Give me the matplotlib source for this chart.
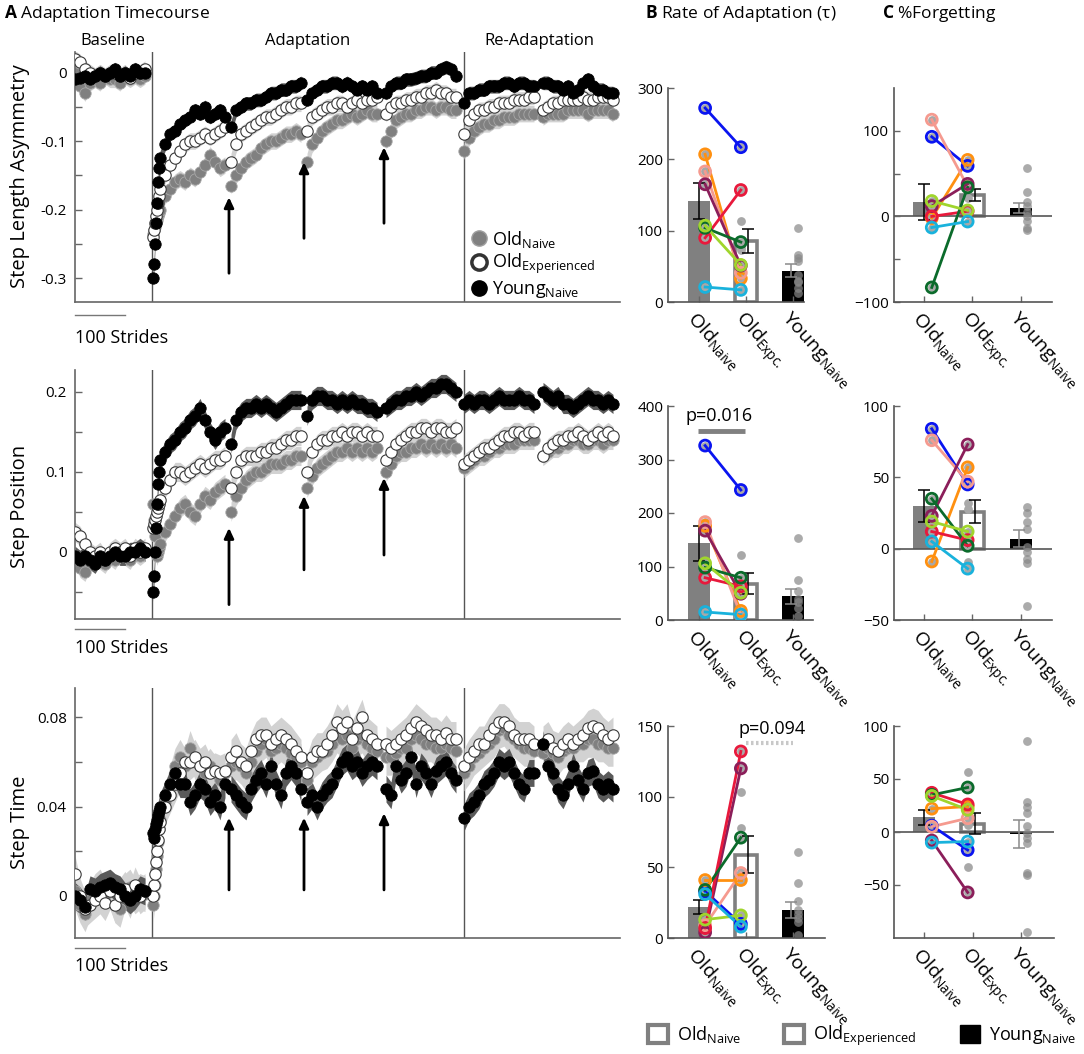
import numpy as np
import matplotlib
matplotlib.use('Agg')
import matplotlib.pyplot as plt
from matplotlib.lines import Line2D
from matplotlib.patches import Patch
from matplotlib.transforms import ScaledTranslation, blended_transform_factory

plt.rcParams['font.family'] = ['Open Sans', 'DejaVu Sans']
plt.rcParams['mathtext.fontset'] = 'custom'
plt.rcParams['mathtext.rm'] = 'Open Sans'
plt.rcParams['mathtext.it'] = 'Open Sans:italic'
plt.rcParams['mathtext.bf'] = 'Open Sans:bold'

# ---------------- Daten: Zeitverlauf (Strides je Block) ----------------
x_blocks = [np.arange(0, 150, 10),
            np.array([156, 158, 160, 162, 164, 166, 168, 170] + list(range(180, 301, 10))),
            np.arange(312, 453, 10), np.arange(464, 605, 10), np.arange(622, 763, 10),
            np.arange(778, 919, 10), np.arange(936, 1077, 10)]

# Step Length Asymmetry
sla_naive = [
    [0.0, -0.02, -0.03, -0.015, -0.01, -0.015, -0.005, -0.01, -0.01, -0.015, -0.005, -0.01, -0.005, -0.01, -0.005],
    [-0.235, -0.23, -0.225, -0.22, -0.215, -0.21, -0.205, -0.2, -0.18, -0.17, -0.16, -0.155, -0.16, -0.15, -0.155, -0.145, -0.135, -0.12, -0.13, -0.14, -0.135],
    [-0.165, -0.15, -0.14, -0.13, -0.125, -0.12, -0.11, -0.105, -0.1, -0.1, -0.095, -0.09, -0.09, -0.085, -0.09],
    [-0.13, -0.105, -0.095, -0.085, -0.08, -0.075, -0.07, -0.07, -0.065, -0.06, -0.065, -0.06, -0.055, -0.06, -0.06],
    [-0.1, -0.085, -0.07, -0.065, -0.06, -0.06, -0.055, -0.055, -0.05, -0.05, -0.055, -0.05, -0.05, -0.055, -0.055],
    [-0.115, -0.095, -0.085, -0.08, -0.075, -0.075, -0.07, -0.07, -0.065, -0.065, -0.065, -0.06, -0.06, -0.06, -0.06],
    [-0.065, -0.06, -0.06, -0.06, -0.06, -0.055, -0.055, -0.055, -0.055, -0.06, -0.055, -0.055, -0.055, -0.055, -0.06]]
sla_exp = [
    [0.02, 0.015, 0.005, 0.0, -0.005, 0.0, -0.005, 0.0, 0.0, -0.005, 0.0, -0.008, 0.0, 0.0, 0.005],
    [-0.24, -0.23, -0.22, -0.21, -0.2, -0.19, -0.18, -0.17, -0.15, -0.135, -0.125, -0.115, -0.105, -0.1, -0.1, -0.095, -0.09, -0.095, -0.09, -0.085, -0.08],
    [-0.13, -0.105, -0.09, -0.085, -0.08, -0.075, -0.07, -0.065, -0.065, -0.06, -0.055, -0.05, -0.05, -0.045, -0.045],
    [-0.085, -0.065, -0.06, -0.055, -0.05, -0.05, -0.045, -0.045, -0.05, -0.045, -0.04, -0.045, -0.04, -0.04, -0.035],
    [-0.06, -0.05, -0.045, -0.045, -0.04, -0.04, -0.035, -0.035, -0.03, -0.03, -0.025, -0.03, -0.03, -0.035, -0.035],
    [-0.09, -0.07, -0.06, -0.055, -0.055, -0.05, -0.05, -0.045, -0.045, -0.045, -0.04, -0.04, -0.04, -0.035, -0.035],
    [-0.055, -0.05, -0.045, -0.045, -0.04, -0.04, -0.04, -0.04, -0.035, -0.04, -0.04, -0.035, -0.035, -0.035, -0.04]]
sla_young = [
    [-0.01, -0.008, -0.005, -0.01, -0.005, 0.0, -0.005, 0.0, 0.005, -0.005, 0.0, -0.005, 0.005, 0.0, 0.0],
    [-0.3, -0.28, -0.25, -0.22, -0.19, -0.16, -0.14, -0.125, -0.105, -0.09, -0.085, -0.075, -0.07, -0.065, -0.055, -0.06, -0.05, -0.065, -0.06, -0.055, -0.065],
    [-0.08, -0.055, -0.05, -0.045, -0.045, -0.04, -0.04, -0.035, -0.03, -0.03, -0.025, -0.025, -0.02, -0.02, -0.015],
    [-0.04, -0.03, -0.025, -0.02, -0.02, -0.015, -0.015, -0.02, -0.015, -0.02, -0.025, -0.02, -0.025, -0.02, -0.03],
    [-0.03, -0.02, -0.015, -0.015, -0.01, -0.01, -0.008, -0.005, -0.005, 0.0, 0.0, 0.005, 0.008, 0.005, -0.005],
    [-0.045, -0.03, -0.03, -0.025, -0.025, -0.02, -0.02, -0.02, -0.015, -0.015, -0.02, -0.015, -0.015, -0.02, -0.02],
    [-0.015, -0.015, -0.02, -0.02, -0.025, -0.02, -0.03, -0.025, -0.015, -0.01, -0.02, -0.025, -0.025, -0.03, -0.03]]

# Step Position
pos_naive = [
    [-0.005, -0.02, -0.025, -0.01, -0.005, -0.01, -0.015, -0.005, -0.01, 0.0, -0.005, -0.01, 0.0, -0.005, 0.0],
    [0.06, 0.04, 0.02, 0.0, -0.005, 0.0, 0.005, 0.01, 0.025, 0.035, 0.045, 0.055, 0.06, 0.05, 0.045, 0.06, 0.07, 0.065, 0.075, 0.08, 0.085],
    [0.05, 0.07, 0.08, 0.09, 0.095, 0.1, 0.1, 0.105, 0.11, 0.11, 0.11, 0.115, 0.115, 0.12, 0.12],
    [0.08, 0.095, 0.105, 0.11, 0.115, 0.12, 0.125, 0.125, 0.13, 0.125, 0.13, 0.125, 0.13, 0.125, 0.13],
    [0.1, 0.11, 0.12, 0.125, 0.125, 0.13, 0.13, 0.135, 0.13, 0.135, 0.13, 0.135, 0.13, 0.135, 0.13],
    [0.105, 0.11, 0.115, 0.12, 0.12, 0.125, 0.13, 0.13, 0.135, 0.135, 0.135, 0.14, 0.14, 0.14, 0.14],
    [0.12, 0.125, 0.13, 0.13, 0.135, 0.135, 0.14, 0.14, 0.135, 0.135, 0.14, 0.14, 0.135, 0.14, 0.14]]
pos_exp = [
    [0.025, 0.02, 0.01, 0.0, -0.005, 0.0, -0.01, 0.0, 0.005, 0.0, 0.005, -0.005, 0.005, 0.0, 0.005],
    [0.03, 0.035, 0.04, 0.045, 0.05, 0.055, 0.06, 0.065, 0.08, 0.09, 0.1, 0.1, 0.095, 0.1, 0.105, 0.11, 0.105, 0.11, 0.115, 0.115, 0.12],
    [0.08, 0.1, 0.115, 0.12, 0.12, 0.12, 0.125, 0.125, 0.13, 0.13, 0.135, 0.14, 0.14, 0.145, 0.145],
    [0.1, 0.125, 0.135, 0.14, 0.14, 0.145, 0.145, 0.15, 0.145, 0.15, 0.15, 0.145, 0.15, 0.145, 0.145],
    [0.115, 0.125, 0.135, 0.14, 0.145, 0.15, 0.15, 0.155, 0.155, 0.15, 0.155, 0.155, 0.15, 0.15, 0.155],
    [0.11, 0.115, 0.12, 0.125, 0.13, 0.13, 0.135, 0.14, 0.145, 0.145, 0.15, 0.15, 0.145, 0.15, 0.15],
    [0.12, 0.13, 0.135, 0.14, 0.14, 0.145, 0.145, 0.15, 0.145, 0.14, 0.145, 0.15, 0.145, 0.15, 0.145]]
pos_young = [
    [-0.005, -0.01, -0.005, -0.01, -0.015, -0.005, -0.01, -0.005, 0.0, -0.005, -0.005, 0.0, 0.0, 0.005, 0.0],
    [-0.05, -0.03, 0.0, 0.03, 0.06, 0.085, 0.1, 0.115, 0.125, 0.135, 0.14, 0.15, 0.155, 0.165, 0.17, 0.18, 0.165, 0.15, 0.14, 0.15, 0.155],
    [0.135, 0.165, 0.175, 0.18, 0.18, 0.185, 0.18, 0.185, 0.18, 0.175, 0.18, 0.185, 0.19, 0.19, 0.19],
    [0.17, 0.19, 0.195, 0.195, 0.19, 0.19, 0.185, 0.19, 0.185, 0.19, 0.185, 0.185, 0.18, 0.18, 0.175],
    [0.18, 0.185, 0.19, 0.19, 0.195, 0.195, 0.2, 0.195, 0.2, 0.205, 0.205, 0.21, 0.21, 0.205, 0.2],
    [0.185, 0.19, 0.185, 0.19, 0.19, 0.185, 0.19, 0.195, 0.19, 0.19, 0.19, 0.195, 0.19, 0.19, 0.185],
    [0.2, 0.195, 0.19, 0.195, 0.185, 0.185, 0.18, 0.185, 0.19, 0.195, 0.19, 0.19, 0.185, 0.19, 0.185]]

# Step Time
st_naive = [
    [0.002, -0.004, -0.008, -0.002, 0.002, 0.004, 0.0, 0.003, -0.004, -0.006, 0.002, 0.004, 0.0, 0.002, 0.001],
    [-0.004, 0.0, 0.005, 0.012, 0.018, 0.024, 0.03, 0.034, 0.042, 0.05, 0.058, 0.062, 0.058, 0.066, 0.06, 0.058, 0.055, 0.058, 0.055, 0.052, 0.055],
    [0.058, 0.06, 0.058, 0.055, 0.06, 0.065, 0.068, 0.07, 0.065, 0.066, 0.068, 0.066, 0.064, 0.062, 0.06],
    [0.052, 0.06, 0.062, 0.064, 0.065, 0.068, 0.072, 0.07, 0.072, 0.066, 0.07, 0.072, 0.068, 0.066, 0.065],
    [0.062, 0.062, 0.064, 0.066, 0.066, 0.07, 0.072, 0.07, 0.068, 0.068, 0.066, 0.066, 0.068, 0.066, 0.065],
    [0.055, 0.058, 0.062, 0.064, 0.066, 0.068, 0.07, 0.074, 0.075, 0.072, 0.07, 0.068, 0.066, 0.066, 0.065],
    [0.064, 0.066, 0.064, 0.062, 0.065, 0.066, 0.066, 0.068, 0.068, 0.07, 0.07, 0.068, 0.068, 0.066, 0.066]]
st_exp = [
    [0.01, 0.0, -0.006, -0.004, -0.002, 0.0, -0.003, 0.002, -0.004, 0.0, 0.003, -0.002, 0.005, 0.0, 0.002],
    [0.0, 0.005, 0.01, 0.015, 0.02, 0.025, 0.03, 0.033, 0.04, 0.045, 0.05, 0.055, 0.06, 0.06, 0.062, 0.058, 0.06, 0.055, 0.056, 0.055, 0.056],
    [0.062, 0.065, 0.06, 0.058, 0.065, 0.07, 0.072, 0.072, 0.068, 0.07, 0.072, 0.07, 0.068, 0.065, 0.062],
    [0.055, 0.062, 0.065, 0.065, 0.068, 0.072, 0.078, 0.075, 0.078, 0.07, 0.075, 0.08, 0.072, 0.07, 0.068],
    [0.068, 0.066, 0.068, 0.07, 0.072, 0.075, 0.078, 0.076, 0.074, 0.072, 0.072, 0.07, 0.073, 0.07, 0.07],
    [0.058, 0.062, 0.065, 0.068, 0.068, 0.072, 0.075, 0.078, 0.078, 0.076, 0.072, 0.07, 0.07, 0.07, 0.068],
    [0.068, 0.07, 0.066, 0.065, 0.068, 0.07, 0.068, 0.07, 0.072, 0.075, 0.076, 0.075, 0.072, 0.07, 0.072]]
st_young = [
    [0.0, -0.002, -0.005, 0.003, 0.002, 0.004, 0.005, 0.006, 0.004, 0.003, 0.0, -0.002, 0.0, 0.003, 0.002],
    [0.028, 0.026, 0.03, 0.032, 0.034, 0.036, 0.038, 0.04, 0.045, 0.05, 0.055, 0.05, 0.05, 0.042, 0.045, 0.05, 0.048, 0.042, 0.045, 0.04, 0.05],
    [0.048, 0.045, 0.042, 0.04, 0.048, 0.052, 0.055, 0.05, 0.058, 0.05, 0.045, 0.055, 0.058, 0.055, 0.048],
    [0.042, 0.045, 0.04, 0.045, 0.048, 0.05, 0.055, 0.06, 0.062, 0.058, 0.06, 0.055, 0.058, 0.06, 0.058],
    [0.048, 0.045, 0.058, 0.052, 0.055, 0.062, 0.05, 0.058, 0.055, 0.05, 0.056, 0.058, 0.06, 0.055, 0.052],
    [0.035, 0.04, 0.042, 0.045, 0.05, 0.052, 0.055, 0.06, 0.058, 0.06, 0.055, 0.05, 0.048, 0.055, 0.055],
    [0.068, 0.058, 0.055, 0.048, 0.045, 0.05, 0.058, 0.052, 0.048, 0.055, 0.056, 0.05, 0.048, 0.05, 0.048]]

# Standardfehler (Bandbreite)
sla_se_old, sla_se_young = 0.012, 0.01
pos_se_old, pos_se_young = 0.012, 0.012
st_se_old, st_se_young = 0.008, 0.006

# Pfeile (Stride, Spitze, Fuss)
arrow_strides = [308, 458, 618]
sla_arrows = [(-0.182, -0.293), (-0.131, -0.242), (-0.109, -0.22)]
pos_arrows = [(0.03, -0.066), (0.07, -0.0225), (0.0925, -0.004)]
st_arrows = [(0.035, 0.0027), (0.035, 0.0027), (0.037, 0.0027)]

# ---------------- Daten: Einzelprobanden (B und C) ----------------
subj_colors = ['#0a14f0', '#ff9010', '#f59a8f', '#8b1e5a', '#e8193c', '#0b6b2b', '#a0d52d', '#19b2dc']

tau_sla_naive = [272, 207, 183, 165, 90, 104, 107, 21]
tau_sla_exp = [217, 33, 41, 51, 157, 84, 52, 17]
tau_sla_extra = [114, 76, 73]
tau_sla_young = [104, 66, 62, 58, 38, 30, 28, 19, 12]
tau_sla_mean = [142, 85, 44]
tau_sla_sem = [25, 17, 9]

fg_sla_naive = [93, -2, 113, 12, 0, -83, 18, -13]
fg_sla_exp = [59, 66, 35, 38, 6, 34, 7, -6]
fg_sla_extra = [22]
fg_sla_young = [57, 28, 17, 12, 5, 1, -5, -13, -16]
fg_sla_mean = [17, 25, 10]
fg_sla_sem = [21, 7, 6]

tau_pos_naive = [326, 176, 183, 167, 79, 98, 106, 15]
tau_pos_exp = [243, 17, 9, 49, 63, 79, 51, 10]
tau_pos_extra = [121]
tau_pos_young = [153, 74, 55, 40, 33, 22, 8]
tau_pos_mean = [143, 68, 44]
tau_pos_sem = [32, 20, 14]

fg_pos_naive = [84, -9, 76, 23, 12, 35, 19, 5]
fg_pos_exp = [45, 57, 47, 73, 6, 2, 12, -14]
fg_pos_extra = [32, 28, -9]
fg_pos_young = [29, 25, 19, 14, 1, -2, -7, -10, -40]
fg_pos_mean = [30, 26, 7]
fg_pos_sem = [11, 8, 6]

tau_st_naive = [33, 41, 9, 4, 7, 34, 13, 31]
tau_st_exp = [10, 41, 46, 120, 132, 71, 16, 8]
tau_st_extra = [103, 78, 47]
tau_st_young = [61, 39, 26, 20, 17, 14, 11, 2]
tau_st_mean = [22, 59, 20]
tau_st_sem = [5, 13, 5.5]

fg_st_naive = [6, 22, 5, -8, 37, 35, 34, -10]
fg_st_exp = [-17, 24, 13, -57, 26, 42, 21, -9]
fg_st_extra = [57, 7, -33]
fg_st_young = [86, 28, 24, 18, 6, -1, -6, -10, -39, -41, -94]
fg_st_mean = [14, 8, -2]
fg_st_sem = [7, 9.5, 13]

group_labels = [r'Old$_{\mathrm{Naive}}$', r'Old$_{\mathrm{Expc.}}$', r'Young$_{\mathrm{Naive}}$']

W, H = 1084, 1054
fig = plt.figure(figsize=(W / 100, H / 100), dpi=100)


def px_axes(x0, y0, x1, y1):
    return fig.add_axes([x0 / W, 1 - y1 / H, (x1 - x0) / W, (y1 - y0) / H])


SPINE = '#666666'


def zeitverlauf(ax, naive, exp, young, se_old, se_young, ylim, yticks, ylabels, yminor,
                arrows, bar_y, txt_y):
    for xs, a, b, c in zip(x_blocks, naive, exp, young):
        a, b, c = np.array(a), np.array(b), np.array(c)
        ax.fill_between(xs, a - se_old, a + se_old, color='#d2d2d2', lw=0, zorder=1)
        ax.fill_between(xs, b - se_old, b + se_old, color='#d2d2d2', lw=0, zorder=1)
        ax.fill_between(xs, c - se_young, c + se_young, color='#5a5a5a', lw=0, zorder=1.5)
    for xs, a in zip(x_blocks, naive):
        ax.plot(xs, a, 'o', ms=8.2, mfc='#808080', mec='#a8a8a8', mew=0.6, zorder=2)
    for xs, b in zip(x_blocks, exp):
        ax.plot(xs, b, 'o', ms=8.2, mfc='white', mec='#3a3a3a', mew=0.8, zorder=3)
    for xs, c in zip(x_blocks, young):
        ax.plot(xs, c, 'o', ms=8.2, mfc='black', mec='black', mew=0.6, zorder=4)
    for xv in [154, 777]:
        ax.axvline(xv, color='#555555', lw=1.0, zorder=0.5)
    for xs, (tip, base) in zip(arrow_strides, arrows):
        ax.annotate('', xy=(xs, tip), xytext=(xs, base),
                    arrowprops=dict(arrowstyle='-|>,head_length=0.6,head_width=0.28',
                                    lw=2, color='black', shrinkA=0, shrinkB=0),
                    zorder=5)
    ax.set_xlim(0, 1090)
    ax.set_ylim(*ylim)
    ax.set_yticks(yticks)
    ax.set_yticklabels(ylabels)
    ax.set_yticks(yminor, minor=True)
    ax.set_xticks([])
    ax.tick_params(axis='y', which='both', direction='in', length=5, width=1,
                   color=SPINE, labelsize=11, pad=6)
    for s in ['top', 'right']:
        ax.spines[s].set_visible(False)
    for s in ['left', 'bottom']:
        ax.spines[s].set_color(SPINE)
        ax.spines[s].set_linewidth(1.2)
    tr = blended_transform_factory(ax.transData, ax.transAxes)
    ax.plot([0, 100], [bar_y, bar_y], color='#777777', lw=1, transform=tr, clip_on=False)
    ax.text(0, txt_y, '100 Strides', transform=tr, ha='left', va='top', fontsize=13)


def balken(ax, naive, exp, extra, young, means, sems, ylim, yticks, yminor, xlim,
           dot_off, zero_line=False):
    w = 0.47
    ax.bar(1, means[0], w, color='#808080', zorder=1)
    ax.bar(2, means[1], w, facecolor='white', edgecolor='#808080', lw=2.6, zorder=1)
    ax.bar(3, means[2], w, color='black', zorder=1)
    if zero_line:
        ax.axhline(0, color='#555555', lw=1.2, zorder=1.5)
    for xe, m, e, ec in zip([1.0, 2.05, 2.95], means, sems, ['k', 'k', '#8a8a8a']):
        ax.errorbar([xe], [m], yerr=[e], fmt='none', ecolor=ec,
                    elinewidth=1.1, capsize=4, capthick=1.1, zorder=2.5)
    x1, x2, x3 = 1 + dot_off[0], 2 + dot_off[1], 3 + dot_off[2]
    ax.scatter([x1] * len(naive), naive, s=40, color='#a8a8a8', lw=0, zorder=2)
    ax.scatter([x2] * len(exp + extra), exp + extra, s=40, color='#a8a8a8', lw=0, zorder=2)
    ax.scatter([x3] * len(young), young, s=40, color='#888888', alpha=0.7, lw=0, zorder=2)
    for a, b, c in zip(naive, exp, subj_colors):
        ax.plot([x1, x2], [a, b], color=c, lw=2, zorder=3)
        ax.scatter([x1, x2], [a, b], s=62, facecolors='none', edgecolors=c, lw=2, zorder=4)
    ax.set_xlim(*xlim)
    ax.set_ylim(*ylim)
    ax.set_yticks(yticks)
    ax.set_yticks(yminor, minor=True)
    ax.set_xticks([1, 2, 3])
    ax.set_xticklabels(group_labels, fontsize=14)
    off = ScaledTranslation(-0.13, 0, fig.dpi_scale_trans)
    for lab in ax.get_xticklabels():
        lab.set_rotation(-48)
        lab.set_ha('left')
        lab.set_va('top')
        lab.set_rotation_mode('anchor')
        lab.set_transform(lab.get_transform() + off)
    ax.tick_params(axis='both', which='both', direction='in', length=4, width=1,
                   color=SPINE, labelsize=11)
    ax.tick_params(axis='x', labelsize=14, pad=4)
    for s in ['top', 'right']:
        ax.spines[s].set_visible(False)
    for s in ['left', 'bottom']:
        ax.spines[s].set_color('#555555')
        ax.spines[s].set_linewidth(1.2)


# ---------------- Spalte A ----------------
axA1 = px_axes(75, 52, 620, 302)
zeitverlauf(axA1, sla_naive, sla_exp, sla_young, sla_se_old, sla_se_young, (-0.335, 0.03),
            [-0.3, -0.2, -0.1, 0], ['-0.3', '-0.2', '-0.1', '0'], [-0.25, -0.15, -0.05],
            sla_arrows, -0.052, -0.108)
axA2 = px_axes(75, 370, 620, 619)
zeitverlauf(axA2, pos_naive, pos_exp, pos_young, pos_se_old, pos_se_young, (-0.084, 0.2275),
            [0, 0.1, 0.2], ['0', '0.1', '0.2'], [-0.05, 0.05, 0.15],
            pos_arrows, -0.04, -0.08)
axA3 = px_axes(75, 688, 620, 938)
zeitverlauf(axA3, st_naive, st_exp, st_young, st_se_old, st_se_young, (-0.0188, 0.093),
            [0, 0.04, 0.08], ['0', '0.04', '0.08'], [0.02, 0.06],
            st_arrows, -0.04, -0.075)

trA = blended_transform_factory(axA1.transData, axA1.transAxes)
for xs, lab in zip([76, 465, 928], ['Baseline', 'Adaptation', 'Re-Adaptation']):
    axA1.text(xs, 1.012, lab, transform=trA, ha='center', va='bottom', fontsize=12)

axA1.legend(handles=[
    Line2D([], [], marker='o', ls='none', mfc='#808080', mec='#a0a0a0', ms=11),
    Line2D([], [], marker='o', ls='none', mfc='white', mec='#333333', mew=2.5, ms=11),
    Line2D([], [], marker='o', ls='none', mfc='black', mec='black', ms=11)],
    labels=[r'Old$_{\mathrm{Naive}}$', r'Old$_{\mathrm{Experienced}}$', r'Young$_{\mathrm{Naive}}$'],
    loc='upper left', bbox_to_anchor=(0.71, 0.33), frameon=False, fontsize=13,
    handlelength=0.9, handletextpad=0.25, labelspacing=0.15, borderpad=0)

fig.text(20 / W, 1 - 176 / H, 'Step Length Asymmetry', rotation=90, ha='center', va='center', fontsize=14.5)
fig.text(20 / W, 1 - 506 / H, 'Step Position', rotation=90, ha='center', va='center', fontsize=14.5)
fig.text(20 / W, 1 - 822 / H, 'Step Time', rotation=90, ha='center', va='center', fontsize=14.5)

# ---------------- Spalte B ----------------
offB = [0.13, -0.11, 0.11]
offC = [0.16, -0.1, 0.12]
axB1 = px_axes(668, 88, 804, 302)
balken(axB1, tau_sla_naive, tau_sla_exp, tau_sla_extra, tau_sla_young, tau_sla_mean, tau_sla_sem,
       (0, 300), [0, 100, 200, 300], [], (0.34, 3.234), offB)
axB2 = px_axes(668, 406, 813, 620)
balken(axB2, tau_pos_naive, tau_pos_exp, tau_pos_extra, tau_pos_young, tau_pos_mean, tau_pos_sem,
       (0, 400), [0, 100, 200, 300, 400], [], (0.34, 3.425), offB)
axB2.plot([0.98, 1.98], [353, 353], color='#808080', lw=3.5, solid_capstyle='butt', zorder=5)
axB2.text(1.43, 381, 'p=0.016', ha='center', va='center', fontsize=13)
axB3 = px_axes(668, 726, 825, 938)
balken(axB3, tau_st_naive, tau_st_exp, tau_st_extra, tau_st_young, tau_st_mean, tau_st_sem,
       (0, 150), [0, 50, 100, 150], [], (0.34, 3.68), offB)
axB3.plot([2.0, 3.0], [138, 138], color='#c8c8c8', lw=3, ls=(0, (0.6, 0.6)), zorder=5)
axB3.text(2.55, 148, 'p=0.094', ha='center', va='center', fontsize=13)

# ---------------- Spalte C ----------------
axC1 = px_axes(894, 88, 1052, 302)
balken(axC1, fg_sla_naive, fg_sla_exp, fg_sla_extra, fg_sla_young, fg_sla_mean, fg_sla_sem,
       (-100, 150), [-100, 0, 100], [-50, 50], (0.381, 3.64), offC, zero_line=True)
axC2 = px_axes(894, 406, 1052, 620)
balken(axC2, fg_pos_naive, fg_pos_exp, fg_pos_extra, fg_pos_young, fg_pos_mean, fg_pos_sem,
       (-50, 100), [-50, 0, 50, 100], [], (0.381, 3.64), offC, zero_line=True)
axC3 = px_axes(894, 726, 1054, 938)
balken(axC3, fg_st_naive, fg_st_exp, fg_st_extra, fg_st_young, fg_st_mean, fg_st_sem,
       (-100, 100), [-50, 0, 50, 100], [], (0.381, 3.68), offC, zero_line=True)

# ---------------- Titel ----------------
fig.text(4 / W, 1 - 14 / H, r'$\mathbf{A}$ Adaptation Timecourse', ha='left', va='center', fontsize=12.5)
fig.text(645 / W, 1 - 13 / H, r'$\mathbf{B}$ Rate of Adaptation (τ)', ha='left', va='center', fontsize=12.5)
fig.text(882 / W, 1 - 13 / H, r'$\mathbf{C}$ %Forgetting', ha='left', va='center', fontsize=12.5)

# ---------------- Legende unten ----------------
fig.legend(handles=[Patch(facecolor='white', edgecolor='#808080', lw=3),
                    Patch(facecolor='white', edgecolor='#808080', lw=3),
                    Patch(facecolor='black', edgecolor='black', lw=1)],
           labels=[r'Old$_{\mathrm{Naive}}$', r'Old$_{\mathrm{Experienced}}$', r'Young$_{\mathrm{Naive}}$'],
           loc='center', bbox_to_anchor=(862 / W, 1 - 1036 / H), ncol=3, frameon=False,
           fontsize=13, handlelength=1.1, handleheight=1.1, handletextpad=0.5,
           columnspacing=2.4)

fig.savefig('out.png', dpi=100)
